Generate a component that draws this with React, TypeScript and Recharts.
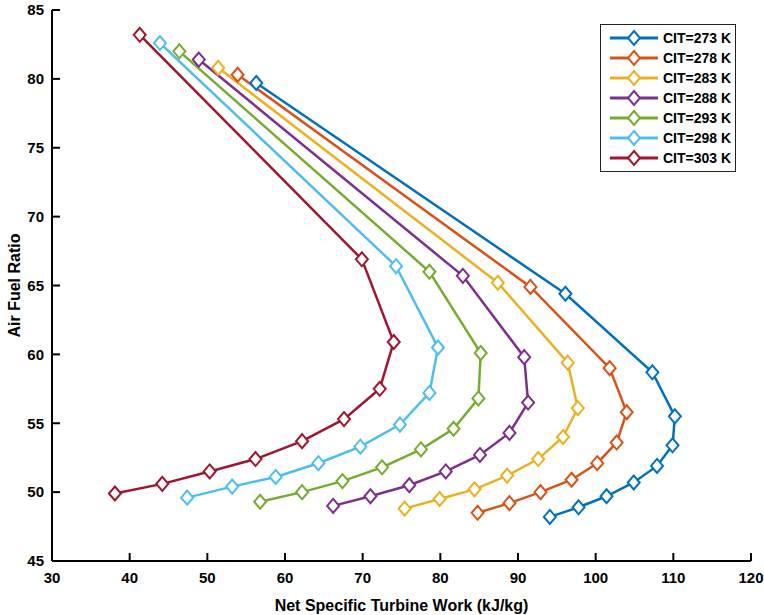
import React from "react";
import { Line, LineChart, XAxis, YAxis } from "recharts";

// Net specific turbine work (kJ/kg) and air-fuel ratio for each compressor inlet temperature
const work273 = [56.3, 96.1, 107.3, 110.2, 109.9, 107.9, 104.9, 101.4, 97.8, 94.1];
const afr273 = [79.7, 64.4, 58.7, 55.5, 53.4, 51.9, 50.7, 49.7, 48.9, 48.2];

const work278 = [53.9, 91.6, 101.8, 104.0, 102.7, 100.2, 96.9, 92.9, 88.9, 84.8];
const afr278 = [80.3, 64.9, 59.0, 55.8, 53.6, 52.1, 50.9, 50.0, 49.2, 48.5];

const work283 = [51.4, 87.4, 96.4, 97.7, 95.8, 92.6, 88.6, 84.4, 79.9, 75.4];
const afr283 = [80.8, 65.2, 59.4, 56.1, 54.0, 52.4, 51.2, 50.2, 49.5, 48.8];

const work288 = [48.9, 82.9, 90.8, 91.3, 88.9, 85.1, 80.7, 76.0, 71.0, 66.2];
const afr288 = [81.4, 65.7, 59.8, 56.5, 54.3, 52.7, 51.5, 50.5, 49.7, 49.0];

const work293 = [46.4, 78.6, 85.2, 84.9, 81.7, 77.5, 72.5, 67.4, 62.2, 56.8];
const afr293 = [82.0, 66.0, 60.1, 56.8, 54.6, 53.1, 51.8, 50.8, 50.0, 49.3];

const work298 = [43.9, 74.3, 79.7, 78.6, 74.8, 69.7, 64.3, 58.8, 53.2, 47.4];
const afr298 = [82.6, 66.4, 60.5, 57.2, 54.9, 53.3, 52.1, 51.1, 50.4, 49.6];

const work303 = [41.3, 69.9, 74.0, 72.2, 67.6, 62.2, 56.2, 50.3, 44.2, 38.1];
const afr303 = [83.2, 66.9, 60.9, 57.5, 55.3, 53.7, 52.4, 51.5, 50.6, 49.9];

const xTicks = [30, 40, 50, 60, 70, 80, 90, 100, 110, 120];
const yTicks = [45, 50, 55, 60, 65, 70, 75, 80, 85];

const FONT = "'Liberation Sans', Arial, Helvetica, sans-serif";

const series = [
  { name: "CIT=273 K", color: "#0072BD", work: work273, afr: afr273 },
  { name: "CIT=278 K", color: "#D95319", work: work278, afr: afr278 },
  { name: "CIT=283 K", color: "#EDB120", work: work283, afr: afr283 },
  { name: "CIT=288 K", color: "#7E2F8E", work: work288, afr: afr288 },
  { name: "CIT=293 K", color: "#77AC30", work: work293, afr: afr293 },
  { name: "CIT=298 K", color: "#4DBEEE", work: work298, afr: afr298 },
  { name: "CIT=303 K", color: "#A2142F", work: work303, afr: afr303 },
].map((s) => ({
  ...s,
  data: s.work.map((x, i) => ({ x, y: s.afr[i] })),
}));

const Diamond = (props: any) => {
  const { cx, cy, stroke } = props;
  if (cx == null || cy == null) return null;
  return (
    <polygon
      points={`${cx},${cy - 7} ${cx + 6},${cy} ${cx},${cy + 7} ${cx - 6},${cy}`}
      fill="#fff"
      stroke={stroke}
      strokeWidth={2}
    />
  );
};

const X_MARGIN = 11;
const Y_MARGIN = 8;
const TICK_LEN = 8;

const XTick = (props: any) => {
  const { x, y, payload } = props;
  const axisY = y - X_MARGIN;
  return (
    <g>
      <line x1={x} x2={x} y1={axisY} y2={axisY - TICK_LEN} stroke="#000" strokeWidth={2} />
      <text x={x} y={y} dy="0.71em" textAnchor="middle" fontSize={15} fontWeight="bold" fontFamily={FONT} fill="#000">
        {payload.value}
      </text>
    </g>
  );
};

const YTick = (props: any) => {
  const { x, y, payload } = props;
  const axisX = x + Y_MARGIN;
  return (
    <g>
      <line x1={axisX} x2={axisX + TICK_LEN} y1={y} y2={y} stroke="#000" strokeWidth={2} />
      <text x={x} y={y} dy="0.355em" textAnchor="end" fontSize={15} fontWeight="bold" fontFamily={FONT} fill="#000">
        {payload.value}
      </text>
    </g>
  );
};

// legend box drawn over the top-right corner of the plot
const LegendBox = () => (
  <div
    style={{
      position: "absolute",
      left: 600,
      top: 24,
      width: 134,
      border: "1px solid #222",
      background: "#fff",
      padding: "3px 0",
      fontFamily: FONT,
      fontWeight: "bold",
      fontSize: 14,
    }}
  >
    {series.map((s) => (
      <div key={s.name} style={{ display: "flex", alignItems: "center", height: 20 }}>
        <svg width={62} height={20} style={{ flex: "none" }}>
          <line x1={9} x2={57} y1={10} y2={10} stroke={s.color} strokeWidth={3} />
          <polygon points="33,3 39,10 33,17 27,10" fill="#fff" stroke={s.color} strokeWidth={2} />
        </svg>
        <span style={{ color: "#000", whiteSpace: "nowrap" }}>{s.name}</span>
      </div>
    ))}
  </div>
);

export default function App() {
  return (
    <div style={{ position: "absolute", left: 0, top: 0, width: 764, height: 615, background: "#fff" }}>
      <LineChart width={764} height={615} margin={{ top: 10, right: 13, bottom: 0, left: 0 }}>
        <XAxis
          type="number"
          dataKey="x"
          domain={[30, 120]}
          ticks={xTicks}
          interval={0}
          height={54}
          tickSize={0}
          tickMargin={X_MARGIN}
          tick={<XTick />}
          axisLine={{ stroke: "#000", strokeWidth: 2 }}
          tickLine={false}
          allowDataOverflow
          label={{
            value: "Net Specific Turbine Work (kJ/kg)",
            position: "insideBottom",
            offset: 4,
            style: { fontFamily: FONT, fontWeight: "bold", fontSize: 16, fill: "#000" },
          }}
        />
        <YAxis
          type="number"
          dataKey="y"
          domain={[45, 85]}
          ticks={yTicks}
          interval={0}
          width={52}
          tickSize={0}
          tickMargin={Y_MARGIN}
          tick={<YTick />}
          axisLine={{ stroke: "#000", strokeWidth: 2 }}
          tickLine={false}
          allowDataOverflow
          label={{
            value: "Air Fuel Ratio",
            angle: -90,
            position: "insideLeft",
            offset: 14,
            style: { textAnchor: "middle", fontFamily: FONT, fontWeight: "bold", fontSize: 16, fill: "#000" },
          }}
        />
        {series.map((s) => (
          <Line
            key={s.name}
            name={s.name}
            data={s.data}
            dataKey="y"
            type="linear"
            stroke={s.color}
            strokeWidth={2.5}
            dot={<Diamond />}
            activeDot={false}
            isAnimationActive={false}
          />
        ))}
      </LineChart>
      <LegendBox />
    </div>
  );
}
